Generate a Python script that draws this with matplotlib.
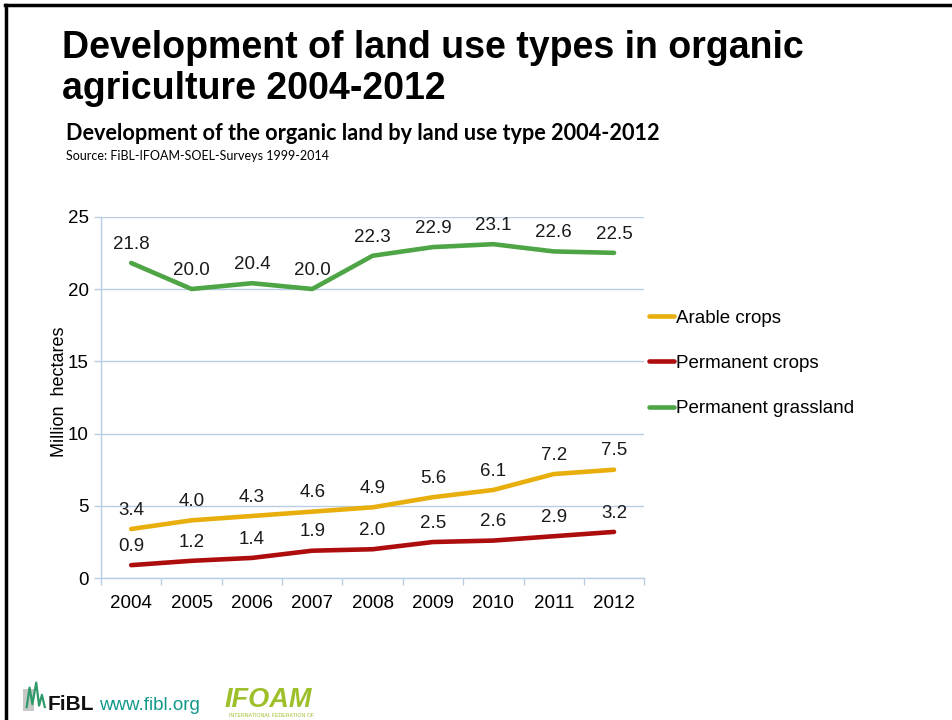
import matplotlib.pyplot as plt
from matplotlib.lines import Line2D

years = ['2004', '2005', '2006', '2007', '2008', '2009', '2010', '2011', '2012']
arable = [3.4, 4.0, 4.3, 4.6, 4.9, 5.6, 6.1, 7.2, 7.5]
permanent_crops = [0.9, 1.2, 1.4, 1.9, 2.0, 2.5, 2.6, 2.9, 3.2]
grassland = [21.8, 20.0, 20.4, 20.0, 22.3, 22.9, 23.1, 22.6, 22.5]

series = [
    ('Arable crops', arable, '#E8AE0C'),
    ('Permanent crops', permanent_crops, '#AE0D0D'),
    ('Permanent grassland', grassland, '#4EA546'),
]

plt.rcParams['font.family'] = ['Liberation Sans', 'DejaVu Sans']
fs = 13.5

fig = plt.figure(figsize=(9.53, 7.2), dpi=100)
ax = fig.add_axes([0.106, 0.197, 0.570, 0.502])

x = list(range(len(years)))
for name, vals, col in series:
    ax.plot(x, vals, color=col, lw=3.3, label=name, solid_capstyle='round')
    for xi, v in zip(x, vals):
        ax.annotate(f'{v:.1f}', (xi, v), xytext=(0, 13.5), textcoords='offset points',
                    ha='center', va='center', fontsize=fs, color='#1a1a1a')

# category axis, ticks sit between categories
grid_col = '#B9CDE5'
ax.set_xlim(-0.5, len(years) - 0.5)
ax.set_ylim(0, 25)
ax.set_yticks(range(0, 26, 5))
ax.set_xticks([i - 0.5 for i in range(len(years) + 1)])
ax.set_xticklabels([])
ax.set_xticks(x, minor=True)
ax.set_xticklabels(years, minor=True)
ax.tick_params(axis='x', which='major', length=5, color=grid_col, width=1)
ax.tick_params(axis='x', which='minor', length=0, pad=12, labelsize=fs)
ax.tick_params(axis='y', length=5, color=grid_col, width=1, pad=4, labelsize=fs)
ax.grid(axis='y', color=grid_col, lw=1)
ax.set_axisbelow(True)
for s in ['top', 'right']:
    ax.spines[s].set_visible(False)
for s in ['left', 'bottom']:
    ax.spines[s].set_color(grid_col)
    ax.spines[s].set_linewidth(1)
ax.set_ylabel('Million  hectares', fontsize=13, labelpad=0)
ax.yaxis.label.set_y(0.515)

fig.legend(loc='upper left', bbox_to_anchor=(0.671, 0.583), frameon=False,
           fontsize=fs, handlelength=1.35, handletextpad=0.08, labelspacing=1.5,
           borderpad=0)

# titles
fig.text(0.065, 0.920, 'Development of land use types in organic', fontsize=27,
         fontweight='bold', va='baseline')
fig.text(0.065, 0.863, 'agriculture 2004-2012', fontsize=27,
         fontweight='bold', va='baseline')
fig.text(0.069, 0.805, 'Development of the organic land by land use type 2004-2012',
         fontsize=15.6, fontweight='bold', family=['Lato', 'DejaVu Sans'], va='baseline')
fig.text(0.069, 0.778, 'Source: FiBL-IFOAM-SOEL-Surveys 1999-2014', fontsize=9,
         family=['Lato', 'DejaVu Sans'], va='baseline')

# slide border
fig.add_artist(Line2D([0.005, 1.0], [0.993, 0.993], color='black', lw=2.5))
fig.add_artist(Line2D([0.006, 0.006], [0.0, 0.993], color='black', lw=2.5))

# footer logos (rough text versions)
fig.add_artist(plt.Rectangle((0.024, 0.013), 0.012, 0.03, color='#c8c8c8', lw=0))
fig.add_artist(Line2D([0.028, 0.031, 0.034, 0.038, 0.041, 0.044, 0.047],
                      [0.018, 0.045, 0.022, 0.052, 0.02, 0.035, 0.018],
                      color='#2f9a6a', lw=1.6))
fig.text(0.050, 0.014, 'FiBL', fontsize=15, fontweight='bold', color='#111111', va='baseline')
fig.text(0.104, 0.014, 'www.fibl.org', fontsize=13.5, color='#12998A', va='baseline')
fig.text(0.236, 0.018, 'IFOAM', fontsize=19.5, fontweight='bold', style='italic',
         color='#9DBF2A', va='baseline')
fig.text(0.240, 0.004, 'INTERNATIONAL FEDERATION OF', fontsize=3.8, color='#9DBF2A',
         va='baseline')

fig.savefig('out.png', dpi=100)
